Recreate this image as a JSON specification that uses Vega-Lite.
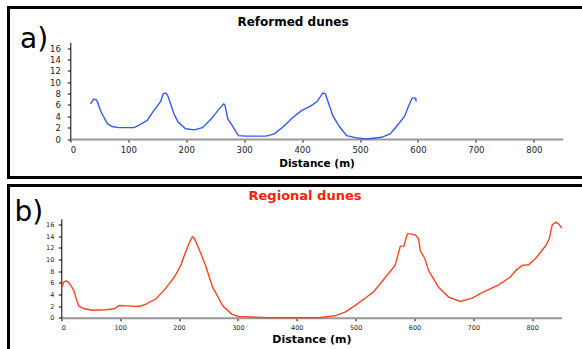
{
  "$schema": "https://vega.github.io/schema/vega-lite/v6.json",
  "padding": {"left": 6.5, "top": 5.5, "right": 0, "bottom": 0},
  "spacing": 8,
  "bounds": "flush",
  "background": "white",
  "config": {
    "view": {"stroke": "#000", "strokeWidth": 3},
    "axis": {
      "grid": false,
      "labelFont": "DejaVu Sans",
      "labelFontSize": 8.5,
      "labelColor": "#222",
      "tickColor": "#000",
      "tickSize": 3,
      "tickWidth": 1,
      "titleColor": "#000"
    }
  },
  "vconcat": [
    {
      "width": 578,
      "height": 170,
      "title": {"text": "Reformed dunes", "font": "DejaVu Sans", "fontSize": 12, "fontWeight": "bold", "color": "#000", "anchor": "middle", "frame": "group", "offset": -30.5, "baseline": "alphabetic", "dx": -4.5},
      "data": {"values": [
        {"d": 35, "h": 6.2}, {"d": 40, "h": 7.0}, {"d": 45, "h": 6.9}, {"d": 47, "h": 6.5}, {"d": 52, "h": 5.0},
        {"d": 57, "h": 4.0}, {"d": 64, "h": 2.7}, {"d": 72, "h": 2.2}, {"d": 84, "h": 2.0}, {"d": 110, "h": 2.0},
        {"d": 118, "h": 2.4}, {"d": 133, "h": 3.3}, {"d": 144, "h": 5.0}, {"d": 156, "h": 6.6}, {"d": 160, "h": 7.9},
        {"d": 165, "h": 8.1}, {"d": 168, "h": 7.7}, {"d": 173, "h": 6.2}, {"d": 179, "h": 4.4}, {"d": 186, "h": 3.0},
        {"d": 199, "h": 1.8}, {"d": 214, "h": 1.6}, {"d": 228, "h": 2.0}, {"d": 243, "h": 3.5}, {"d": 257, "h": 5.3},
        {"d": 265, "h": 6.2}, {"d": 267, "h": 5.9}, {"d": 272, "h": 3.5}, {"d": 278, "h": 2.6}, {"d": 290, "h": 0.6},
        {"d": 303, "h": 0.5}, {"d": 338, "h": 0.5}, {"d": 352, "h": 0.9}, {"d": 367, "h": 2.1}, {"d": 384, "h": 3.8},
        {"d": 399, "h": 5.0}, {"d": 413, "h": 5.7}, {"d": 425, "h": 6.5}, {"d": 432, "h": 7.5}, {"d": 436, "h": 8.1},
        {"d": 440, "h": 8.0}, {"d": 445, "h": 6.5}, {"d": 453, "h": 4.1}, {"d": 465, "h": 2.1}, {"d": 477, "h": 0.6},
        {"d": 494, "h": 0.2}, {"d": 511, "h": 0.0}, {"d": 537, "h": 0.3}, {"d": 552, "h": 0.9}, {"d": 563, "h": 2.2},
        {"d": 566, "h": 2.6}, {"d": 577, "h": 4.0}, {"d": 583, "h": 5.6}, {"d": 590, "h": 7.2}, {"d": 596, "h": 7.2},
        {"d": 597, "h": 6.6}
      ]},
      "mark": {"type": "line", "color": "#3558F5", "strokeWidth": 1.4},
      "encoding": {
        "x": {
          "field": "d", "type": "quantitative",
          "scale": {"domain": [0, 850], "range": [61.8, 554.3], "nice": false, "zero": false},
          "axis": {
            "values": [0, 100, 200, 300, 400, 500, 600, 700, 800],
            "offset": -38.5,
            "domainColor": "#999",
            "domainWidth": 2,
            "labelPadding": 3,
            "title": "Distance (m)",
            "titleFont": "DejaVu Sans",
            "titleFontWeight": "bold",
            "titleFontSize": 10.5,
            "titleY": 27.2,
            "titleBaseline": "alphabetic"
          }
        },
        "y": {
          "field": "h", "type": "quantitative",
          "scale": {"domain": [0, 17], "range": [131.5, 34.9], "nice": false},
          "axis": {
            "values": [0, 2, 4, 6, 8, 10, 12, 14, 16],
            "offset": -61.8,
            "domainColor": "#000",
            "labelPadding": 7,
            "title": "a)",
            "titleAngle": 0,
            "titleX": -50.8,
            "titleY": 39.5,
            "titleAlign": "left",
            "titleBaseline": "alphabetic",
            "titleFont": "DejaVu Sans",
            "titleFontWeight": "normal",
            "titleFontSize": 28
          }
        }
      }
    },
    {
      "width": 578,
      "height": 170,
      "title": {"text": "Regional dunes", "font": "DejaVu Sans", "fontSize": 13, "fontWeight": "bold", "color": "#FF2200", "anchor": "middle", "frame": "group", "offset": -27, "baseline": "alphabetic", "dx": 7.5},
      "data": {"values": [
        {"d": 1, "h": 5.25}, {"d": 4, "h": 6.1}, {"d": 8, "h": 6.35}, {"d": 12, "h": 6.1}, {"d": 18, "h": 5.25},
        {"d": 22, "h": 4.5}, {"d": 26, "h": 3.0}, {"d": 30, "h": 2.0}, {"d": 39, "h": 1.55}, {"d": 53, "h": 1.3},
        {"d": 76, "h": 1.37}, {"d": 90, "h": 1.55}, {"d": 98, "h": 2.1}, {"d": 110, "h": 2.05}, {"d": 132, "h": 1.95},
        {"d": 144, "h": 2.33}, {"d": 161, "h": 3.26}, {"d": 177, "h": 5.0}, {"d": 192, "h": 7.0}, {"d": 203, "h": 9.0},
        {"d": 211, "h": 11.25}, {"d": 218, "h": 13.0}, {"d": 223, "h": 13.9}, {"d": 226, "h": 13.65}, {"d": 234, "h": 11.8},
        {"d": 245, "h": 9.0}, {"d": 257, "h": 5.25}, {"d": 265, "h": 3.8}, {"d": 274, "h": 2.1}, {"d": 278, "h": 1.7},
        {"d": 290, "h": 0.6}, {"d": 301, "h": 0.22}, {"d": 352, "h": 0.0}, {"d": 437, "h": 0.0}, {"d": 465, "h": 0.34},
        {"d": 482, "h": 0.96}, {"d": 499, "h": 2.1}, {"d": 516, "h": 3.36}, {"d": 530, "h": 4.4}, {"d": 544, "h": 6.1},
        {"d": 551, "h": 7.0}, {"d": 556, "h": 7.6}, {"d": 567, "h": 9.0}, {"d": 572, "h": 10.8}, {"d": 576, "h": 12.3},
        {"d": 582, "h": 12.3}, {"d": 588, "h": 14.4}, {"d": 593, "h": 14.4}, {"d": 602, "h": 14.2}, {"d": 607, "h": 13.55},
        {"d": 610, "h": 11.5}, {"d": 618, "h": 10.1}, {"d": 624, "h": 8.1}, {"d": 641, "h": 5.25}, {"d": 658, "h": 3.55},
        {"d": 678, "h": 2.8}, {"d": 698, "h": 3.37}, {"d": 715, "h": 4.3}, {"d": 743, "h": 5.66}, {"d": 763, "h": 7.0},
        {"d": 772, "h": 8.1}, {"d": 783, "h": 9.0}, {"d": 794, "h": 9.1}, {"d": 806, "h": 10.2}, {"d": 823, "h": 12.35},
        {"d": 829, "h": 13.55}, {"d": 834, "h": 15.95}, {"d": 840, "h": 16.4}, {"d": 845, "h": 16.1}, {"d": 850, "h": 15.4}
      ]},
      "mark": {"type": "line", "color": "#FF4422", "strokeWidth": 1.4},
      "encoding": {
        "x": {
          "field": "d", "type": "quantitative",
          "scale": {"domain": [0, 850], "range": [52.8, 553.1], "nice": false, "zero": false},
          "axis": {
            "values": [0, 100, 200, 300, 400, 500, 600, 700, 800],
            "offset": -37.7,
            "domainColor": "#999",
            "domainWidth": 2,
            "labelFontSize": 6.5,
            "labelPadding": 4,
            "title": "Distance (m)",
            "titleFont": "DejaVu Sans",
            "titleFontWeight": "bold",
            "titleFontSize": 11,
            "titleY": 25,
            "titleBaseline": "alphabetic"
          }
        },
        "y": {
          "field": "h", "type": "quantitative",
          "scale": {"domain": [0, 17], "range": [132.3, 33.2], "nice": false},
          "axis": {
            "values": [0, 2, 4, 6, 8, 10, 12, 14, 16],
            "offset": -52.8,
            "domainColor": "#000",
            "labelFontSize": 6.5,
            "labelPadding": 4.5,
            "title": "b)",
            "titleAngle": 0,
            "titleX": -47.3,
            "titleY": 34.7,
            "titleAlign": "left",
            "titleBaseline": "alphabetic",
            "titleFont": "DejaVu Sans",
            "titleFontWeight": "normal",
            "titleFontSize": 28
          }
        }
      }
    }
  ]
}
